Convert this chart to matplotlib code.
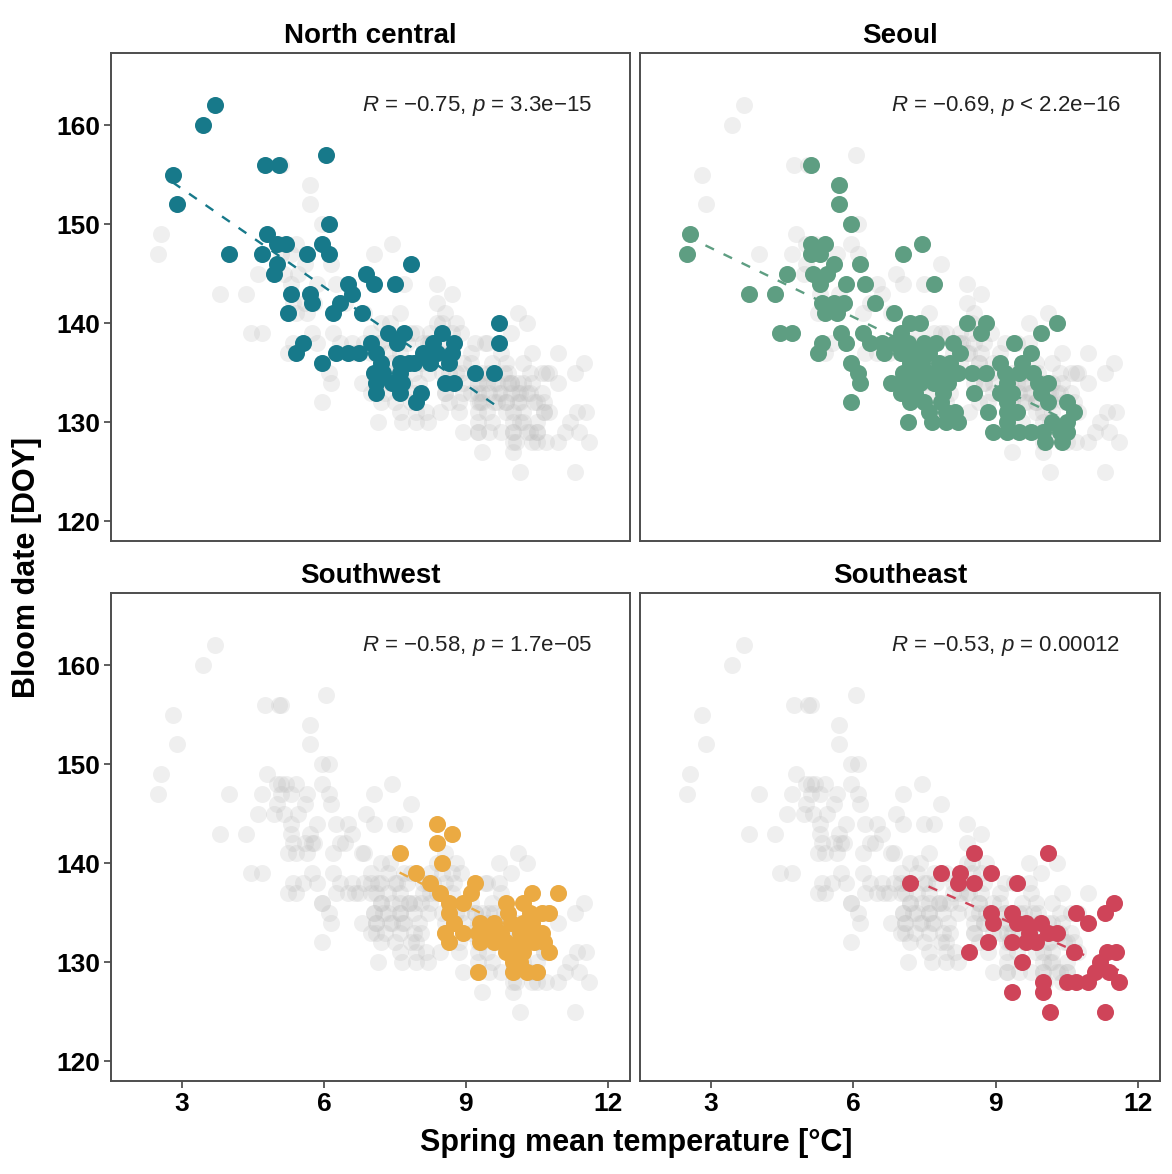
import numpy as np
import matplotlib.pyplot as plt

plt.rcParams['font.family'] = ['Liberation Sans', 'DejaVu Sans']
plt.rcParams['mathtext.fontset'] = 'custom'
plt.rcParams['mathtext.rm'] = 'Liberation Sans'
plt.rcParams['mathtext.it'] = 'Liberation Sans:italic'

# --- data (spring mean temperature [degC], bloom DOY) ---
nc_temp = [3.7, 3.45, 6.05, 4.75, 5.05, 2.8, 2.9, 6.1, 4.8, 5.0, 5.2, 5.95, 6.1, 5.65, 4.7,
           4.0, 5.0, 4.95, 7.85, 6.9, 7.05, 7.5, 6.5, 6.6, 5.3, 5.7, 5.75, 6.35, 6.2, 6.8,
           5.25, 9.7, 9.7, 5.55, 5.4, 5.95, 6.25, 6.5, 6.75, 7.0, 7.35, 7.7, 7.55, 8.5, 8.3,
           8.75, 8.1, 8.7, 8.25, 8.65, 7.9, 7.1, 7.2, 7.6, 7.8, 7.05, 7.25, 7.6, 9.2, 9.6,
           7.1, 7.45, 7.65, 8.55, 8.75, 7.1, 7.6, 8.05, 7.95, 8.4]
nc_doy = [162, 160, 157, 156, 156, 155, 152, 150, 149, 148, 148, 148, 147, 147, 147,
          147, 146, 145, 146, 145, 144, 144, 144, 143, 143, 143, 142, 142, 141, 141,
          141, 140, 138, 138, 137, 136, 137, 137, 137, 138, 139, 139, 138, 139, 138,
          138, 137, 137, 136, 136, 136, 137, 136, 136, 136, 135, 135, 135, 135, 135,
          134, 134, 134, 134, 134, 133, 133, 133, 132, 137]

seoul_temp = [5.1, 5.7, 5.7, 5.95, 2.55, 2.5, 5.1, 5.4, 5.1, 5.3, 7.45, 7.05, 6.15, 5.6, 4.6,
              5.15, 5.45, 5.3, 5.85, 6.25, 7.7, 3.8, 4.35, 6.45, 5.35, 5.6, 5.8, 5.4, 5.65, 6.85,
              7.2, 7.4, 8.4, 8.8, 8.7, 10.3, 9.95, 4.45, 4.7, 5.75, 6.2, 7.0, 5.35, 5.85, 6.35,
              6.6, 6.85, 7.15, 7.5, 7.75, 8.1, 9.4, 5.25, 6.65, 7.0, 7.35, 7.6, 8.25, 9.75, 5.95,
              7.2, 7.45, 7.8, 8.05, 9.1, 9.55, 6.1, 7.05, 7.35, 7.6, 7.9, 8.2, 8.5, 8.8, 9.2,
              9.5, 9.8, 6.15, 6.8, 7.1, 7.4, 7.7, 8.0, 9.25, 9.9, 10.1, 7.0, 7.3, 7.9, 8.55,
              9.1, 9.35, 9.95, 5.95, 7.2, 7.5, 7.85, 9.25, 10.1, 10.5, 8.85, 7.6, 7.95, 8.15, 9.25,
              9.45, 10.65, 7.15, 7.65, 7.95, 8.2, 9.25, 10.2, 10.5, 8.95, 9.25, 9.5, 9.75, 10.0,
              10.35, 10.5, 10.05, 10.4]
seoul_doy = [156, 154, 152, 150, 149, 147, 148, 148, 147, 147, 148, 147, 146, 146, 145,
             145, 145, 144, 144, 144, 144, 143, 143, 142, 142, 142, 142, 141, 141, 141,
             140, 140, 140, 140, 139, 140, 139, 139, 139, 139, 139, 139, 138, 138, 138,
             138, 138, 138, 138, 138, 138, 138, 137, 137, 137, 137, 137, 137, 137, 136,
             136, 136, 136, 136, 136, 136, 135, 135, 135, 135, 135, 135, 135, 135, 135,
             135, 135, 134, 134, 134, 134, 134, 134, 134, 134, 134, 133, 133, 133, 133,
             133, 133, 133, 132, 132, 132, 132, 132, 132, 132, 131, 131, 131, 131, 131,
             131, 131, 130, 130, 130, 130, 130, 130, 130, 129, 129, 129, 129, 129,
             129, 129, 128, 128]

sw_temp = [8.4, 8.7, 8.4, 7.6, 8.5, 7.95, 8.25, 8.45, 9.2, 9.1, 8.65, 8.95, 8.65, 8.75, 8.55,
           8.95, 8.65, 10.4, 10.95, 9.85, 10.2, 9.9, 10.35, 10.6, 10.75, 9.3, 9.6, 9.95, 10.2, 10.4,
           9.25, 9.5, 9.75, 10.15, 10.35, 10.6, 9.3, 9.6, 9.85, 10.15, 10.45, 10.65, 9.85, 10.0, 10.2,
           10.75, 10.0, 10.15, 9.25, 10.0, 10.3, 10.5]
sw_doy = [144, 143, 142, 141, 140, 139, 138, 137, 138, 137, 136, 136, 135, 134, 133,
          133, 132, 137, 137, 136, 136, 135, 135, 135, 135, 134, 134, 134, 134, 134,
          133, 133, 133, 133, 133, 133, 132, 132, 132, 132, 132, 132, 131, 131, 131,
          131, 130, 130, 129, 129, 129, 129]

se_temp = [8.55, 10.1, 7.2, 7.85, 8.25, 8.2, 8.55, 8.9, 9.45, 8.9, 8.95, 8.85, 8.45, 9.35, 9.45,
           9.65, 9.95, 9.7, 10.1, 10.3, 9.35, 9.65, 9.85, 9.55, 10.65, 10.7, 10.95, 11.3, 11.5, 10.5,
           10.7, 10.95, 11.1, 11.2, 11.35, 11.55, 11.4, 11.6, 9.35, 10.0, 10.0, 10.15, 11.3]
se_doy = [141, 141, 138, 139, 139, 138, 138, 139, 138, 135, 134, 132, 131, 135, 134,
          134, 134, 133, 133, 133, 132, 132, 132, 130, 131, 135, 134, 135, 136, 128,
          128, 128, 129, 130, 131, 131, 129, 128, 127, 128, 127, 125, 125]

regions = ['North central', 'Seoul', 'Southwest', 'Southeast']
region_temp = [nc_temp, seoul_temp, sw_temp, se_temp]
region_doy = [nc_doy, seoul_doy, sw_doy, se_doy]
stat_labels = [r'$\it{R}$ = −0.75, $\it{p}$ = 3.3e−15',
               r'$\it{R}$ = −0.69, $\it{p}$ < 2.2e−16',
               r'$\it{R}$ = −0.58, $\it{p}$ = 1.7e−05',
               r'$\it{R}$ = −0.53, $\it{p}$ = 0.00012']
colors = ['#17798A', '#5E9E82', '#EBAA42', '#CF4459']

all_temp = np.concatenate(region_temp)
all_doy = np.concatenate(region_doy)

W, H = 1172, 1174
fig = plt.figure(figsize=(W / 100, H / 100), dpi=100)
# panel boxes in pixels: left, top, right, bottom
boxes = [(111, 53, 630, 541), (640, 53, 1160, 541),
         (111, 593, 630, 1081), (640, 593, 1160, 1081)]

for i, (x0, y0, x1, y1) in enumerate(boxes):
    ax = fig.add_axes([x0 / W, 1 - y1 / H, (x1 - x0) / W, (y1 - y0) / H])
    t = np.array(region_temp[i])
    d = np.array(region_doy[i])

    # everything in light grey underneath
    ax.scatter(all_temp, all_doy, s=150, color='#bdbdbd', alpha=0.24, linewidths=0, zorder=1)

    # linear fit over the region's range
    slope, icpt = np.polyfit(t, d, 1)
    xs = np.array([t.min(), t.max()])
    ax.plot(xs, icpt + slope * xs, color=colors[i], lw=1.7, linestyle=(0, (4, 4.5)), zorder=2)

    ax.scatter(t, d, s=150, color=colors[i], linewidths=0, zorder=3)

    ax.text(6.8, 161.4, stat_labels[i], fontsize=16, ha='left', va='baseline', color='#222222')

    ax.set_xlim(1.5, 12.47)
    ax.set_ylim(118.0, 167.3)
    ax.set_xticks([3, 6, 9, 12])
    ax.set_yticks([120, 130, 140, 150, 160])
    ax.tick_params(direction='out', length=5, width=1.1, color='#333333',
                   labelsize=19, pad=3)
    for lab in ax.get_xticklabels() + ax.get_yticklabels():
        lab.set_fontweight('bold')
    if i < 2:
        ax.tick_params(axis='x', bottom=False, labelbottom=False)
    if i % 2 == 1:
        ax.tick_params(axis='y', left=False, labelleft=False)
    for sp in ax.spines.values():
        sp.set_color('#4d4d4d')
        sp.set_linewidth(1.4)
    ax.set_title(regions[i], fontsize=20, fontweight='bold', pad=7)

fig.text(27 / W, 1 - 567 / H, 'Bloom date [DOY]', rotation=90, ha='center', va='center',
         fontsize=22, fontweight='bold')
fig.text(636 / W, 1 - 1143 / H, 'Spring mean temperature [°C]', ha='center', va='center',
         fontsize=22, fontweight='bold')

fig.savefig('out.png', dpi=100)
